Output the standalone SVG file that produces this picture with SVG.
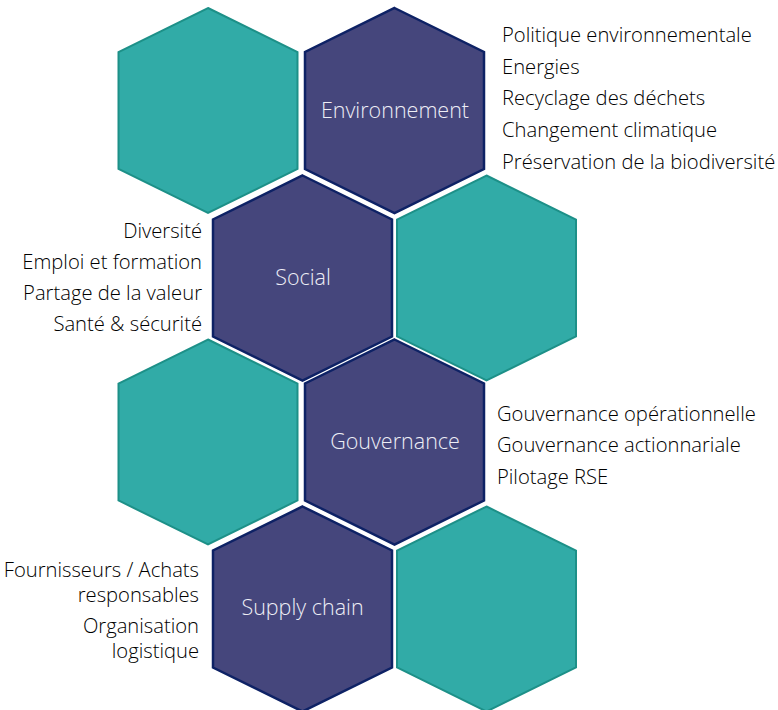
<svg xmlns="http://www.w3.org/2000/svg" width="778" height="710" viewBox="0 0 778 710">
<defs>
<style>
.teal{fill:#31aba7;stroke:#1d9088;stroke-width:2;stroke-linejoin:miter}
.navy{fill:#45467c;stroke:#0e2265;stroke-width:2.5;stroke-linejoin:miter}
.lbl{font-family:"Open Sans","Liberation Sans",sans-serif;font-weight:300;font-size:21.5px;fill:#eeeef6;text-anchor:middle}
.txt{font-family:"Open Sans","Liberation Sans",sans-serif;font-weight:300;font-size:20.2px;fill:#000}
.r{text-anchor:end}
</style>
<polygon id="hex" points="0,0 89.5,44 89.5,161 0,205 -89.5,161 -89.5,44"/>
</defs>
<rect width="778" height="710" fill="#fff"/>
<g id="teal-1"><use href="#hex" class="teal" x="208" y="8"/></g>
<g id="environnement"><use href="#hex" class="navy" x="394.5" y="8"/><text class="lbl" x="395" y="117.5">Environnement</text></g>
<g id="social"><use href="#hex" class="navy" x="302.5" y="175.5"/><text class="lbl" x="303" y="284.5">Social</text></g>
<g id="teal-2"><use href="#hex" class="teal" x="486.5" y="175.5"/></g>
<g id="teal-3"><use href="#hex" class="teal" x="208" y="339.5"/></g>
<g id="gouvernance"><use href="#hex" class="navy" x="394.5" y="339.5"/><text class="lbl" x="395" y="448.5">Gouvernance</text></g>
<g id="supply-chain"><use href="#hex" class="navy" x="302.5" y="506.5"/><text class="lbl" x="302.5" y="614.5">Supply chain</text></g>
<g id="teal-4"><use href="#hex" class="teal" x="486.5" y="506.5"/></g>
<g id="connectors"></g>
<g id="env-list" class="txt">
<text x="502" y="42">Politique environnementale</text>
<text x="502" y="73.5">Energies</text>
<text x="502" y="105">Recyclage des déchets</text>
<text x="502" y="137">Changement climatique</text>
<text x="502" y="169">Préservation de la biodiversité</text>
</g>
<g id="social-list" class="txt r">
<text x="202" y="238">Diversité</text>
<text x="202" y="269">Emploi et formation</text>
<text x="202" y="300">Partage de la valeur</text>
<text x="202" y="331">Santé &amp; sécurité</text>
</g>
<g id="gouv-list" class="txt">
<text x="497" y="421">Gouvernance opérationnelle</text>
<text x="497" y="452">Gouvernance actionnariale</text>
<text x="497" y="484">Pilotage RSE</text>
</g>
<g id="supply-list" class="txt r">
<text><tspan x="199" y="576.5">Fournisseurs / Achats</tspan><tspan x="199" y="601.5">responsables</tspan></text>
<text><tspan x="199" y="632.5">Organisation</tspan><tspan x="199" y="657.5">logistique</tspan></text>
</g>
</svg>
